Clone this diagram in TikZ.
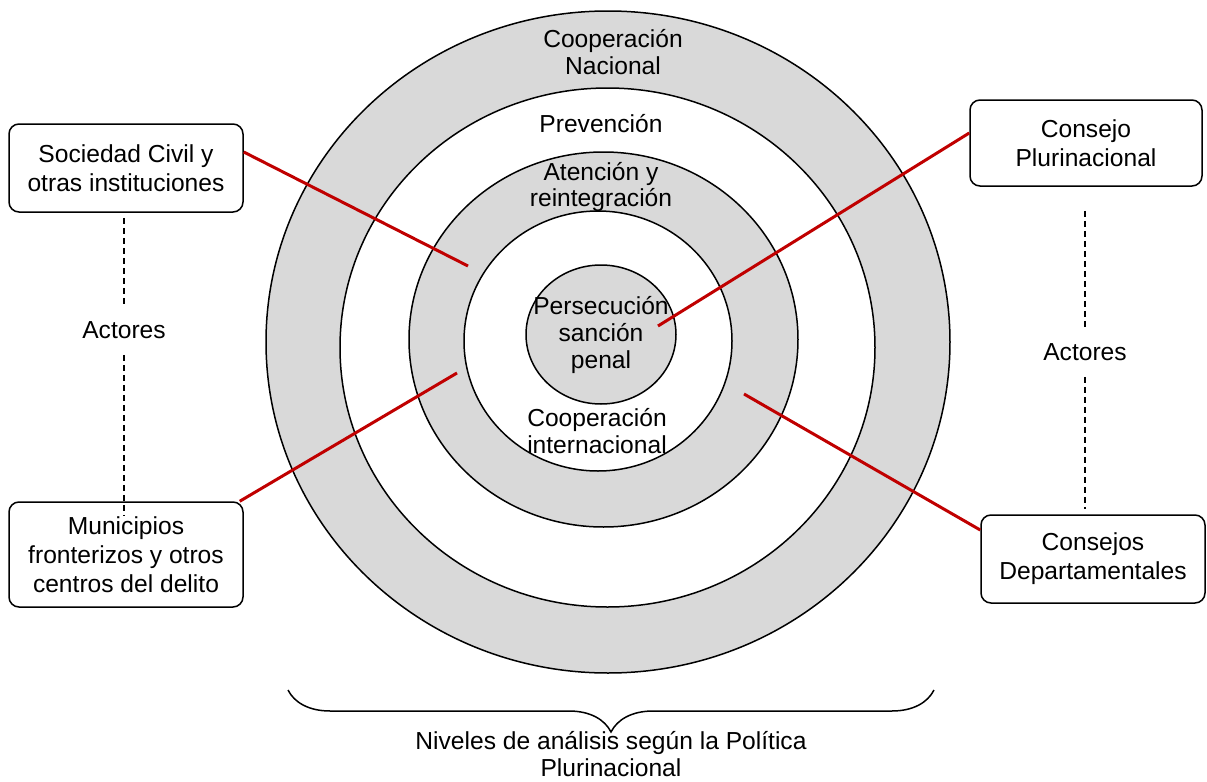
\documentclass[tikz,border=0pt]{standalone}
\usepackage{fontspec}
\setmainfont{Liberation Sans}
\usetikzlibrary{shapes.geometric,decorations.pathreplacing}
\definecolor{ringgray}{HTML}{D9D9D9}
\definecolor{linkred}{HTML}{C00000}

\begin{document}
\begin{tikzpicture}[x=0.5pt, y=-0.5pt,
    every node/.style={align=center, font=\fontsize{12.3}{13.4}\selectfont},
    actor/.style={draw, line width=0.75pt, rounded corners=5pt, inner sep=0pt,
      font=\fontsize{12.3}{14.6}\selectfont},
    link/.style={draw=linkred, line width=1.5pt},
    guide/.style={draw, line width=0.75pt, dash pattern=on 3pt off 2pt}]
  \useasboundingbox (0,0) rectangle (1207,782);

  % rings, from outside to inside
  {\tikzstyle{every node}=[ellipse, draw, line width=0.75pt, inner sep=0pt]
    \foreach \i/\cx/\cy/\w/\h/\c in {1/608/342/684/662/ringgray,
        2/607.5/347.5/535/519/white, 3/603.5/339.5/389/375/ringgray,
        4/598/341/268/260/white, 5/601/334.5/150/139/ringgray}
    {
      \node[fill=\c, minimum width=\w*0.5pt, minimum height=\h*0.5pt] (ring\i) at (\cx,\cy) {};
    }
  }

  % actors
  \node[actor, minimum width=117pt, minimum height=44pt] (soc) at (126,168) {Sociedad Civil y\\otras instituciones};
  \node[actor, minimum width=117pt, minimum height=52.5pt] (mun) at (126,554.5) {Municipios\\fronterizos y otros\\centros del delito};
  \node[actor, minimum width=116pt, minimum height=43pt] (cpl) at (1086,143) {Consejo\\Plurinacional};
  \node[actor, minimum width=112pt, minimum height=44pt] (cdp) at (1093,559) {Consejos\\Departamentales};

  \node[inner sep=8pt] (actL) at (124,330) {Actores};
  \node[inner sep=8pt] (actR) at (1085,352) {Actores};

  \draw[guide, shorten <=2.5pt] (actL |- soc.south) -- (actL);
  \draw[guide, shorten >=-7.5pt] (actL) -- (actL |- mun.north);
  \draw[guide, shorten <=12pt] (actR |- cpl.south) -- (actR);
  \draw[guide, shorten >=2.5pt] (actR) -- (actR |- cdp.north);

  % links into the rings
  \coordinate (psoc) at (468,266);
  \coordinate (pmun) at (457,373);
  \coordinate (pcpl) at (658,326);
  \coordinate (pcdp) at (744,394);

  \draw[link] ([yshift=8pt]soc.east) -- (psoc);
  \draw[link] ([xshift=-2pt]mun.north east) -- (pmun);
  \draw[link] ([yshift=5pt]cpl.west) -- (pcpl);
  \draw[link] ([yshift=14.5pt]cdp.west) -- (pcdp);

  % ring labels
  \node (lnac) at (613,52) {Cooperación\\Nacional};
  \node (lpre) at (601,124) {Prevención};
  \node (late) at (601,187) {Atención y\\reintegración};
  \node (lper) at (601,335) {Persecución\\sanción\\penal};
  \node (lint) at (597,431) {Cooperación\\internacional};

  % brace
  \coordinate (bl) at (288,690);
  \coordinate (br) at (934,690);
  \draw[line width=0.75pt, decorate, decoration={brace, mirror, amplitude=21pt}] (bl) -- (br);
  \node (niv) at (611,754) {Niveles de análisis según la Política\\Plurinacional};
\end{tikzpicture}
\end{document}
